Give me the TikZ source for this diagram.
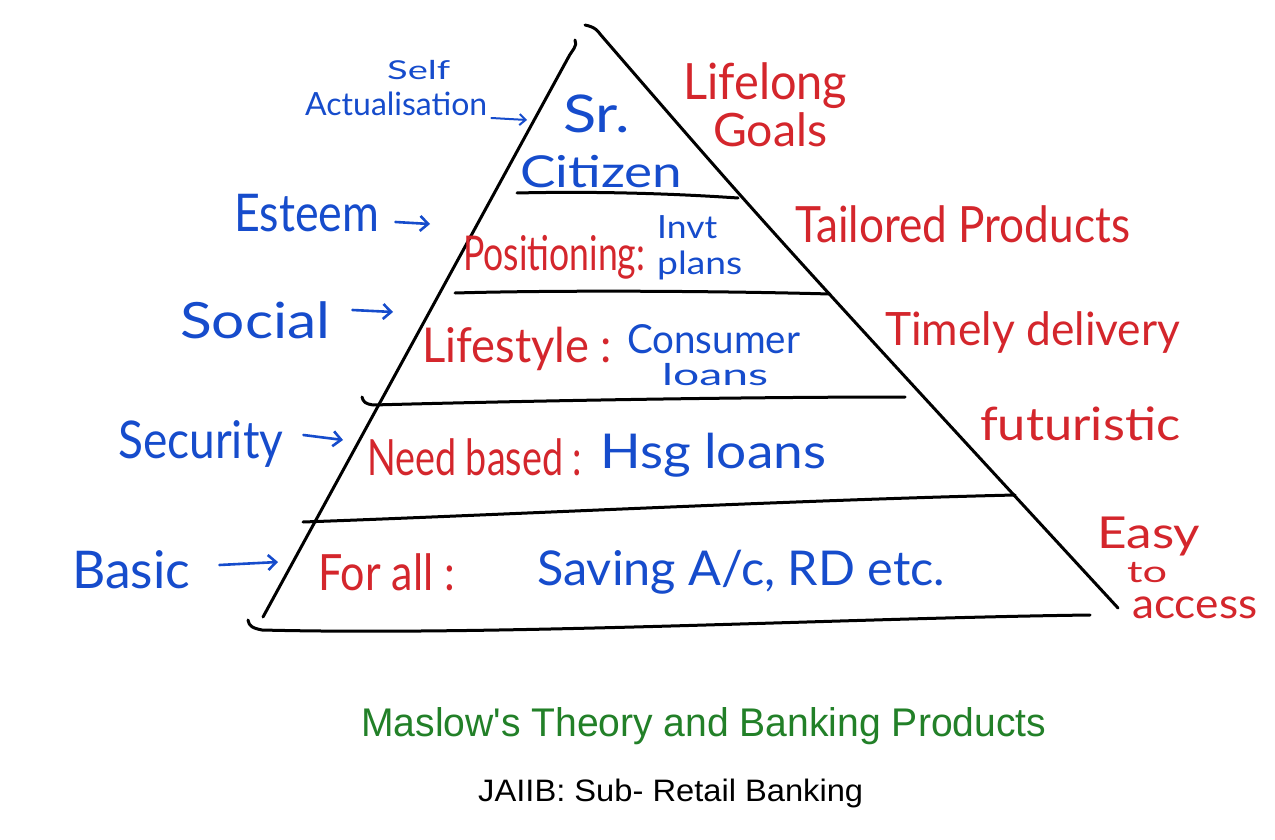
\documentclass[tikz,border=0pt]{standalone}
\usepackage{fontspec}
\usepackage{graphicx}
\setmainfont{Liberation Sans}
\newfontfamily\titlefont{Liberation Sans}[Ligatures=TeXOff]
\newfontfamily\handfont{Lato}
\usetikzlibrary{arrows.meta}
\definecolor{penblue}{RGB}{22,76,204}
\definecolor{penred}{RGB}{212,38,44}
\definecolor{titlegreen}{RGB}{34,128,40}
\newcommand{\hw}[3]{\fontsize{#2}{#2}\selectfont\resizebox{#1}{\height}{#3}}
\tikzset{
  pen/.style={line width=3pt, line cap=round, line join=round, black},
  blu/.style={inner sep=0pt, anchor=base west, font=\handfont, text=penblue},
  rd/.style={inner sep=0pt, anchor=base west, font=\handfont, text=penred},
  penarrow/.style={line width=2.6pt, line cap=round, penblue, -{Straight Barb[length=8pt,width=15pt]}},
}
\begin{document}
\begin{tikzpicture}[x=1pt,y=-1pt]
\useasboundingbox (0,0) rectangle (1275,840);
\fill[white] (0,0) rectangle (1275,840);

% pyramid
\draw[pen] (568,58) .. controls (572,50) and (578,46) .. (575,40);
\draw[pen] (568,58) -- (263,617);
\draw[pen] (585,25) .. controls (595,27) and (598,31) .. (600,34)
  .. controls (765,225) .. (1118,608);
\draw[pen] (517,193) .. controls (600,191) and (680,194) .. (738,198);
\draw[pen] (455,293) .. controls (560,290) and (720,291) .. (830,294);
\draw[pen] (362,397) .. controls (363,402) and (366,404) .. (373,405)
  .. controls (560,400) and (760,397) .. (905,397);
\draw[pen] (303,522) .. controls (500,515) and (800,500) .. (1015,495);
\draw[pen] (248,620) .. controls (249,626) and (252,628) .. (262,630)
  .. controls (500,636) and (850,618) .. (1090,615);

% left labels
\node[blu] (self) at (387,80) {\hw{63pt}{26}{Self}};
\node[blu] (actual) at (305,116) {\hw{182pt}{32}{Actualisation}};
\node[blu] (esteem) at (234,231) {\hw{145pt}{52}{Esteem}};
\node[blu] (social) at (180,338) {\hw{150pt}{50}{Social}};
\node[blu] (security) at (118,458) {\hw{165pt}{52}{Security}};
\node[blu] (basic) at (72,588) {\hw{118pt}{52}{Basic}};

\coordinate (tipSelf) at (527,120);
\coordinate (tipEsteem) at (430,224);
\coordinate (tipSocial) at (393,312);
\coordinate (tipSecurity) at (343,440);
\coordinate (tipBasic) at (278,562);
\draw[penarrow, line width=2pt, -{Straight Barb[length=6pt,width=11pt]}] ([shift={(4,2)}]actual.base east) -- (tipSelf);
\draw[penarrow] ([shift={(16,-9)}]esteem.base east) -- (tipEsteem);
\draw[penarrow] ([shift={(22,-28)}]social.base east) -- (tipSocial);
\draw[penarrow] ([shift={(20,-23)}]security.base east) -- (tipSecurity);
\draw[penarrow] ([shift={(29,-23)}]basic.base east) -- (tipBasic);

% inside pyramid
\node[blu] (sr) at (563,132) {\hw{67pt}{52}{Sr.}};
\node[blu] (citizen) at (520,188) {\hw{162pt}{44}{Citizen}};
\node[rd] (positioning) at (463,270) {\hw{182pt}{48}{Positioning:}};
\node[blu] (invt) at (657,238) {\hw{60pt}{32}{Invt}};
\node[blu] (plans) at (657,274) {\hw{85pt}{32}{plans}};
\node[rd] (lifestyle) at (422,362) {\hw{190pt}{48}{Lifestyle :}};
\node[blu] (consumer) at (627,353) {\hw{173pt}{40}{Consumer}};
\node[blu] (loans) at (662,385) {\hw{106pt}{30}{loans}};
\node[rd] (need) at (367,475) {\hw{215pt}{50}{Need based :}};
\node[blu] (hsg) at (600,468) {\hw{226pt}{48}{Hsg loans}};
\node[rd] (forall) at (318,590) {\hw{137pt}{50}{For all :}};
\node[blu] (saving) at (537,585) {\hw{408pt}{48}{Saving A/c, RD etc.}};

% right labels
\node[rd] (lifelong) at (683,100) {\hw{164pt}{50}{Lifelong}};
\node[rd] (goals) at (713,147) {\hw{114pt}{46}{Goals}};
\node[rd] (tailored) at (795,242) {\hw{335pt}{50}{Tailored Products}};
\node[rd] (timely) at (885,345) {\hw{295pt}{46}{Timely delivery}};
\node[rd] (futur) at (980,440) {\hw{200pt}{46}{futuristic}};
\node[rd] (easy) at (1097,548) {\hw{103pt}{44}{Easy}};
\node[rd] (to) at (1127,582) {\hw{40pt}{30}{to}};
\node[rd] (access) at (1132,618) {\hw{125pt}{42}{access}};

% captions
\node[inner sep=0pt, anchor=base west, text=titlegreen, font=\titlefont] (title) at (361,736)
  {\hw{685pt}{40}{Maslow's Theory and Banking Products}};
\node[inner sep=0pt, anchor=base west, text=black, font=\titlefont] (subtitle) at (478,801)
  {\hw{385pt}{31}{JAIIB: Sub- Retail Banking}};
\end{tikzpicture}
\end{document}
